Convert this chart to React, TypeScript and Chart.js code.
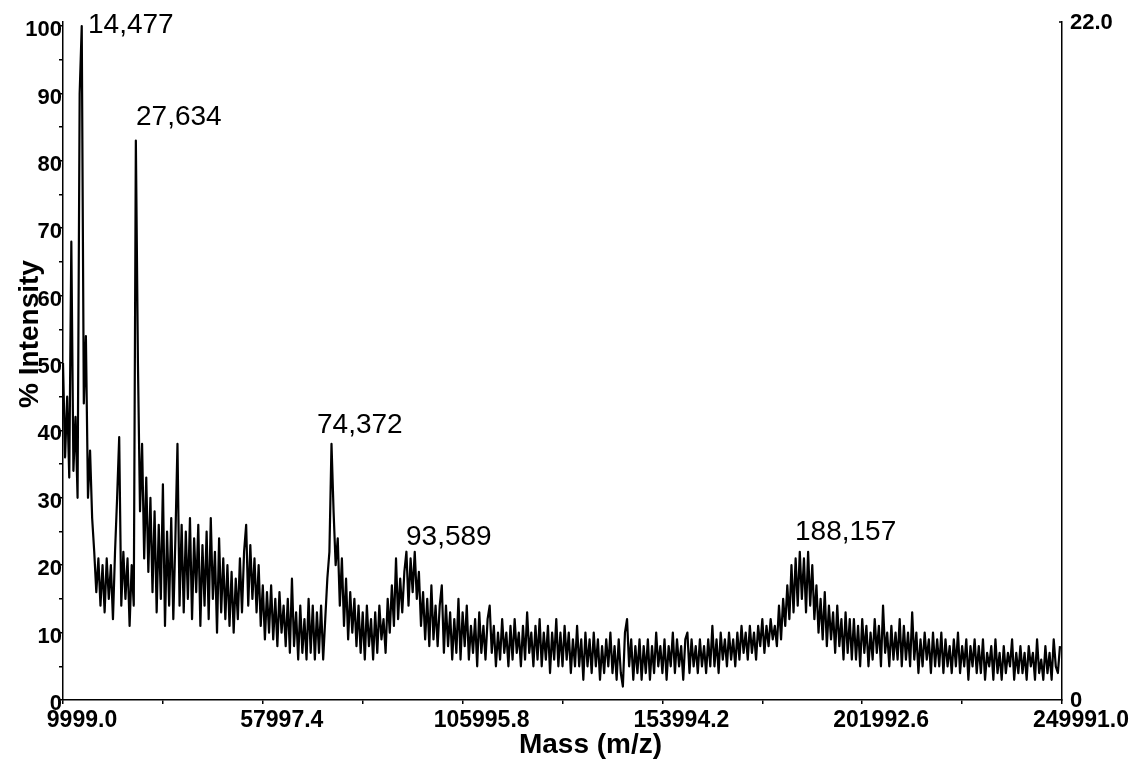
import React, { useEffect, useRef } from 'react';
import { Chart, registerables } from 'chart.js';

Chart.register(...registerables);

// ---- data -------------------------------------------------------------
const MASS_START = 10000; // m/z of first sample
const MASS_STEP = 500; // m/z between samples

// % intensity (20 samples per row = 10,000 m/z per row)
const intensity: number[] = [
  50, 36, 45, 33, 68, 34, 42, 30, 90, 100, 44, 54, 30, 37, 27, 22, 16, 21, 14, 20, // 10k
  13, 21, 15, 20, 12, 22, 30, 39, 14, 22, 15, 21, 11, 20, 14, 83, 50, 28, 38, 21, // 20k
  33, 19, 30, 16, 28, 13, 26, 15, 32, 11, 25, 14, 27, 12, 24, 38, 14, 26, 13, 25, // 30k
  15, 27, 12, 24, 16, 26, 11, 23, 14, 25, 12, 27, 15, 22, 10, 24, 13, 21, 12, 20, // 40k
  11, 19, 10, 18, 12, 21, 13, 22, 26, 14, 23, 15, 21, 13, 20, 11, 17, 9, 16, 10, // 50k
  17, 9, 15, 8, 16, 10, 14, 8, 15, 7, 18, 8, 13, 6, 14, 7, 12, 6, 15, 7, // 60k
  14, 6, 13, 7, 14, 6, 12, 18, 22, 38, 28, 20, 24, 14, 21, 11, 18, 9, 16, 10, // 70k
  15, 8, 14, 7, 13, 6, 14, 8, 12, 6, 13, 7, 14, 9, 12, 7, 15, 10, 17, 11, // 80k
  21, 12, 18, 13, 19, 22, 14, 21, 16, 22, 15, 19, 11, 16, 9, 15, 8, 17, 9, 14, // 90k
  8, 14, 17, 7, 14, 8, 13, 6, 12, 7, 15, 6, 13, 8, 14, 6, 11, 7, 12, 5, // 100k
  13, 7, 11, 6, 12, 14, 7, 11, 5, 10, 6, 12, 7, 10, 5, 11, 6, 12, 7, 10, // 110k
  5, 11, 6, 13, 7, 10, 5, 11, 6, 12, 5, 10, 6, 11, 4, 10, 6, 12, 5, 10, // 120k
  5, 11, 6, 10, 4, 9, 5, 11, 5, 9, 3, 10, 5, 9, 4, 10, 5, 9, 3, 8, // 130k
  4, 9, 5, 10, 4, 8, 3, 9, 4, 2, 10, 12, 5, 9, 3, 8, 4, 9, 3, 8, // 140k
  4, 9, 3, 8, 4, 10, 5, 8, 4, 9, 3, 8, 5, 10, 4, 9, 5, 8, 3, 9, // 150k
  10, 4, 9, 5, 8, 4, 9, 5, 8, 4, 9, 5, 11, 5, 9, 4, 10, 6, 9, 5, // 160k
  10, 6, 9, 5, 10, 6, 11, 7, 10, 6, 11, 7, 10, 6, 11, 8, 12, 7, 11, 8, // 170k
  12, 9, 11, 8, 14, 9, 15, 11, 17, 12, 20, 13, 21, 14, 22, 15, 21, 13, 22, 14, // 180k
  20, 12, 17, 10, 15, 9, 16, 8, 14, 9, 13, 7, 14, 8, 12, 6, 13, 7, 12, 6, // 190k
  12, 6, 11, 5, 12, 7, 11, 5, 10, 6, 12, 7, 11, 5, 14, 7, 10, 5, 11, 6, // 200k
  10, 6, 12, 5, 11, 6, 10, 5, 13, 6, 10, 4, 9, 5, 10, 6, 9, 4, 10, 5, // 210k
  9, 5, 10, 4, 9, 5, 8, 4, 9, 5, 10, 4, 8, 5, 9, 3, 8, 5, 9, 4, // 220k
  8, 4, 9, 3, 7, 5, 8, 3, 9, 4, 7, 3, 8, 4, 7, 5, 9, 3, 7, 4, // 230k
  8, 4, 7, 3, 8, 5, 7, 3, 9, 4, 6, 3, 8, 4, 7, 3, 9, 5, 4, 8, // 240k
];

// axes
const X_MIN = 9999.0;
const X_MAX = 249991.0;
const xMajorTicks = [9999.0, 57997.4, 105995.8, 153994.2, 201992.6, 249991.0];
const xMajorLabels = ['9999.0', '57997.4', '105995.8', '153994.2', '201992.6', '249991.0'];
const xMinorTicks = [33998.2, 81996.6, 129995.0, 177993.4, 225991.8];

const Y_MAX = 100.6;
const yTicks = [0, 5, 10, 15, 20, 25, 30, 35, 40, 45, 50, 55, 60, 65, 70, 75, 80, 85, 90, 95, 100];
const yTickLabels = ['0', '', '10', '', '20', '', '30', '', '40', '', '50', '', '60', '', '70', '', '80', '', '90', '', '100'];

const Y2_MAX = 22.0;
const y2Ticks = [0, 22.0];
const y2TickLabels = ['0', '22.0'];

const X_TITLE = 'Mass (m/z)';
const Y_TITLE = '% Intensity';

// peak annotations (label text and where it sits, in data units)
const peakLabels = ['14,477', '27,634', '74,372', '93,589', '188,157'];
const peakLabelMass = [16005, 27537, 71020, 92401, 185855];
const peakLabelIntensity = [100.1, 86.5, 40.8, 24.1, 24.9];

const FONT = '"Liberation Sans", Arial, Helvetica, sans-serif';

export default function App() {
  const ref = useRef<HTMLCanvasElement>(null);

  useEffect(() => {
    const canvas = ref.current;
    if (!canvas) return;
    const points = intensity.map((v, i) => ({ x: MASS_START + i * MASS_STEP, y: v }));

    const annotationPlugin = {
      id: 'annotations',
      afterDraw(chart: any) {
        const { ctx, scales, chartArea } = chart;
        ctx.save();
        ctx.fillStyle = '#000';
        // peak labels
        ctx.font = `28px ${FONT}`;
        ctx.textAlign = 'left';
        ctx.textBaseline = 'middle';
        peakLabels.forEach((t, i) => {
          ctx.fillText(t, scales.x.getPixelForValue(peakLabelMass[i]), scales.y.getPixelForValue(peakLabelIntensity[i]));
        });
        // axis titles
        ctx.font = `bold 28px ${FONT}`;
        ctx.textAlign = 'center';
        ctx.fillText(X_TITLE, (chartArea.left + chartArea.right) / 2 + 28, chart.height - 23);
        ctx.translate(30, (chartArea.top + chartArea.bottom) / 2 - 27);
        ctx.rotate(-Math.PI / 2);
        ctx.fillText(Y_TITLE, 0, 0);
        ctx.restore();
        // small inward tick at top of the right axis
        ctx.save();
        ctx.strokeStyle = '#000';
        ctx.lineWidth = 1.5;
        ctx.beginPath();
        const yTop = scales.y2.getPixelForValue(Y2_MAX);
        ctx.moveTo(chartArea.right - 3, yTop);
        ctx.lineTo(chartArea.right, yTop);
        ctx.stroke();
        ctx.restore();
      },
    };

    const xTickValues = [...xMajorTicks, ...xMinorTicks].sort((a, b) => a - b);

    const chart = new Chart(canvas, {
      type: 'line',
      data: {
        datasets: [
          {
            data: points,
            borderColor: '#000',
            borderWidth: 2.2,
            borderJoinStyle: 'round',
            pointRadius: 0,
            tension: 0,
            fill: false,
            yAxisID: 'y',
          },
        ],
      },
      options: {
        animation: false,
        responsive: false,
        layout: { padding: { top: 22, left: 0, right: 0, bottom: 0 } },
        plugins: { legend: { display: false }, tooltip: { enabled: false }, title: { display: false } },
        scales: {
          x: {
            type: 'linear',
            position: 'bottom',
            min: X_MIN,
            max: X_MAX,
            afterBuildTicks: (s: any) => {
              s.ticks = xTickValues.map((v) => ({ value: v }));
            },
            afterFit: (s: any) => {
              s.height = 68;
            },
            ticks: {
              autoSkip: false,
              maxRotation: 0,
              minRotation: 0,
              labelOffset: 19,
              padding: 3,
              color: '#000',
              font: { family: FONT, size: 23, weight: 'bold' },
              callback: (v: any) => {
                const idx = xMajorTicks.findIndex((t) => Math.abs(t - Number(v)) < 1);
                return idx >= 0 ? xMajorLabels[idx] : '';
              },
            },
            grid: { drawOnChartArea: false, drawTicks: true, tickLength: 4, color: '#000', lineWidth: 1.5 },
            border: { display: true, color: '#000', width: 1.5 },
            title: { display: false },
          },
          y: {
            type: 'linear',
            position: 'left',
            min: 0,
            max: Y_MAX,
            afterBuildTicks: (s: any) => {
              s.ticks = yTicks.map((v) => ({ value: v }));
            },
            afterFit: (s: any) => {
              s.width = 63;
            },
            ticks: {
              autoSkip: false,
              labelOffset: 4,
              padding: -3,
              color: '#000',
              font: { family: FONT, size: 22, weight: 'bold' },
              callback: (v: any) => {
                const idx = yTicks.indexOf(Number(v));
                return idx >= 0 ? yTickLabels[idx] : '';
              },
            },
            grid: { drawOnChartArea: false, drawTicks: true, tickLength: 4, color: '#000', lineWidth: 1.5 },
            border: { display: true, color: '#000', width: 1.5 },
            title: { display: false },
          },
          y2: {
            type: 'linear',
            position: 'right',
            min: 0,
            max: Y2_MAX,
            afterBuildTicks: (s: any) => {
              s.ticks = y2Ticks.map((v) => ({ value: v }));
            },
            afterFit: (s: any) => {
              s.width = 75;
            },
            ticks: {
              autoSkip: false,
              labelOffset: 1,
              padding: 0,
              color: '#000',
              font: { family: FONT, size: 22, weight: 'bold' },
              callback: (v: any) => {
                const idx = y2Ticks.indexOf(Number(v));
                return idx >= 0 ? y2TickLabels[idx] : '';
              },
            },
            grid: { display: false, drawOnChartArea: false },
            border: { display: true, color: '#000', width: 1.5 },
          },
        },
      },
      plugins: [annotationPlugin],
    } as any);

    return () => chart.destroy();
  }, []);

  return (
    <div style={{ position: 'absolute', left: 0, top: 0, width: 1137, height: 768, background: '#fff' }}>
      <canvas ref={ref} width={1137} height={768} style={{ display: 'block' }} />
    </div>
  );
}
